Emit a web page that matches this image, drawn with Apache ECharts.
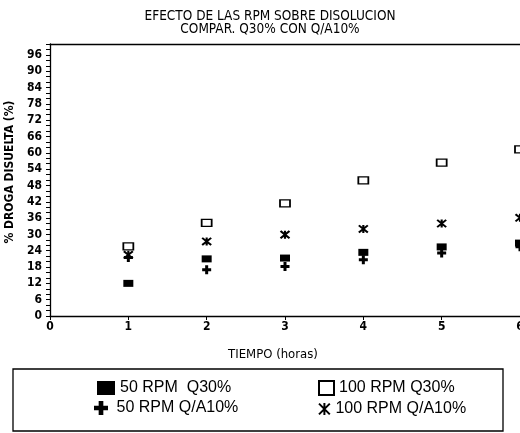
<!DOCTYPE html>
<html>
<head>
<meta charset="utf-8">
<script src="https://cdn.jsdelivr.net/npm/echarts@6/dist/echarts.min.js"></script>
<style>html,body{margin:0;padding:0;background:#fff}#c{width:520px;height:433px}</style>
</head>
<body>
<div id="c"></div>
<script>
var hours = [1, 2, 3, 4, 5, 6];
var rpm50_q30 = [12, 21, 21.3, 23.4, 25.4, 26.8];
var rpm100_q30 = [25.6, 34.2, 41.4, 49.9, 56.4, 61.3];
var rpm50_qa10 = [21.5, 17, 18.2, 20.7, 23.2, 25.5];
var rpm100_qa10 = [22.5, 27.4, 29.9, 32, 34, 36.1];
var names = ['50 RPM  Q30%', '100 RPM Q30%', '50 RPM Q/A10%', '100 RPM Q/A10%'];
var titleLines = ['EFECTO DE LAS RPM SOBRE DISOLUCION', 'COMPAR. Q30% CON Q/A10%'];

function pairs(v) { return hours.map(function (h, i) { return [h, v[i]]; }); }

var PLUS = 'path://M3,0H6V3H9V6H6V9H3V6H0V3H3Z';
var STAR = 'path://M5,0L5,10M0.5,0.5L9.5,9.5M0.5,9.5L9.5,0.5';
var cond = 'DejaVu Sans Condensed';

var chart = echarts.init(document.getElementById('c'));
chart.setOption({
  animation: false,
  backgroundColor: '#fff',
  title: {
    text: titleLines.join('\n'),
    left: 265, top: 5, textAlign: 'center',
    textStyle: { fontFamily: cond, fontSize: 13.5, fontWeight: 'normal', color: '#000', lineHeight: 13 }
  },
  grid: { left: 50, right: 0, top: 44, bottom: 117, containLabel: false, outerBoundsMode: 'none' },
  xAxis: [{
    type: 'value', min: 0, max: 6, interval: 1,
    name: 'TIEMPO (horas)', nameLocation: 'middle', nameGap: 32,
    nameTextStyle: { fontFamily: cond, fontSize: 13, color: '#000', padding: [0, 24, 0, 0] },
    axisLine: { show: true, lineStyle: { color: '#000', width: 1.3 } },
    axisTick: { show: true, inside: false, length: 4, lineStyle: { color: '#000' } },
    axisLabel: { fontFamily: cond, fontSize: 12, fontWeight: 'bold', color: '#000', margin: 5 },
    splitLine: { show: false }
  }, {
    type: 'value', min: 0, max: 6, position: 'top',
    axisLine: { show: true, lineStyle: { color: '#000', width: 1.3 } },
    axisTick: { show: false }, axisLabel: { show: false }, splitLine: { show: false }
  }],
  yAxis: {
    type: 'value', min: 0, max: 100, interval: 6,
    name: '% DROGA DISUELTA (%)', nameLocation: 'middle', nameGap: 34, nameRotate: 90,
    nameTextStyle: { fontFamily: cond, fontSize: 12, fontWeight: 'bold', color: '#000', padding: [0, 0, 0, 16] },
    axisLine: { show: true, lineStyle: { color: '#000', width: 1.3 } },
    axisTick: { show: true, inside: false, length: 4, lineStyle: { color: '#000' } },
    minorTick: { show: true, splitNumber: 3, length: 4, lineStyle: { color: '#000' } },
    axisLabel: { fontFamily: cond, fontSize: 12, fontWeight: 'bold', color: '#000', margin: 8, showMaxLabel: false },
    splitLine: { show: false }, minorSplitLine: { show: false }
  },
  legend: [
    { data: [{ name: names[0], icon: 'rect' }], left: 92, top: 375, itemWidth: 18, itemHeight: 14,
      textStyle: { fontFamily: 'Liberation Sans', fontSize: 16, color: '#000' } },
    { data: [{ name: names[1], icon: 'rect' }], left: 313, top: 375, itemWidth: 15, itemHeight: 14,
      textStyle: { fontFamily: 'Liberation Sans', fontSize: 16, color: '#000' } },
    { data: [{ name: names[2], icon: PLUS }], left: 89, top: 395, itemWidth: 21, itemHeight: 14,
      textStyle: { fontFamily: 'Liberation Sans', fontSize: 16, color: '#000' } },
    { data: [{ name: names[3], icon: STAR }], left: 313, top: 396, itemWidth: 12, itemHeight: 12,
      textStyle: { fontFamily: 'Liberation Sans', fontSize: 16, color: '#000' } }
  ],
  graphic: [{
    type: 'rect', shape: { x: 13, y: 369, width: 490, height: 62 },
    style: { fill: 'none', stroke: '#000', lineWidth: 1.3 }
  }],
  series: [
    { name: names[0], type: 'scatter', data: pairs(rpm50_q30), symbol: 'rect', symbolSize: [10, 7],
      itemStyle: { color: '#000', opacity: 1 } },
    { name: names[1], type: 'scatter', data: pairs(rpm100_q30), symbol: 'rect', symbolSize: [10, 7],
      itemStyle: { color: '#fff', borderColor: '#000', borderWidth: 1.5, opacity: 1 } },
    { name: names[2], type: 'scatter', data: pairs(rpm50_qa10), symbol: PLUS, symbolSize: [9, 9],
      itemStyle: { color: '#000', opacity: 1 } },
    { name: names[3], type: 'scatter', data: pairs(rpm100_qa10), symbol: STAR, symbolSize: [9, 8],
      itemStyle: { color: 'rgba(0,0,0,0)', borderColor: '#000', borderWidth: 2, opacity: 1 } }
  ]
});
</script>
</body>
</html>
